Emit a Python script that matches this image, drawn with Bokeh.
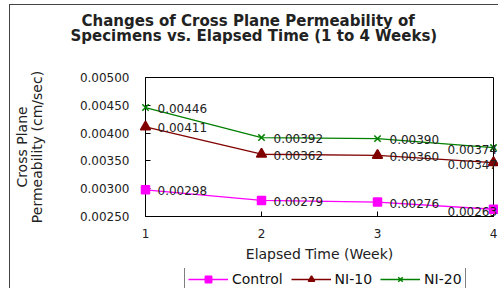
from bokeh.plotting import figure
from bokeh.layouts import column
from bokeh.models import (Range1d, FixedTicker, PrintfTickFormatter, ColumnDataSource,
                          Legend, LegendItem, Title)
from bokeh.core.properties import value
from bokeh.embed import file_html
from bokeh.resources import INLINE

weeks = [1, 2, 3, 4]
control = [0.00298, 0.00279, 0.00276, 0.00263]
ni10 = [0.00411, 0.00362, 0.00360, 0.00347]
ni20 = [0.00446, 0.00392, 0.00390, 0.00374]
series_names = ["Control", "NI-10", "NI-20"]
y_ticks = [0.0025, 0.0030, 0.0035, 0.0040, 0.0045, 0.0050]
x_ticks = [1, 2, 3, 4]
title_lines = ["Changes of Cross Plane Permeability of",
               "Specimens vs. Elapsed Time (1 to 4 Weeks)"]

FONT = "DejaVu Sans"
colors = ["#FF00FF", "#800000", "#008000"]
markers = ["square", "triangle", "x"]
sizes = [8, 10, 9]
W = 488
BL, BR = 134, 5


def blank(height, top, bottom):
    f = figure(width=W, height=height, output_backend="svg", toolbar_location=None,
               x_range=Range1d(1, 4), y_range=Range1d(1, 2),
               min_border_left=BL, min_border_right=BR,
               min_border_top=top, min_border_bottom=bottom)
    f.axis.visible = False
    f.grid.visible = False
    f.outline_line_color = None
    f.title = None
    f.background_fill_color = "white"
    f.border_fill_color = "white"
    return f


# title strip
tf = blank(55, 39, 0)
t2 = Title(text=title_lines[1], align="left", text_font=FONT, text_font_size="15px",
           text_font_style="bold", text_color="#222", offset=-75, standoff=0)
t1 = Title(text=title_lines[0], align="left", text_font=FONT, text_font_size="15px",
           text_font_style="bold", text_color="#222", offset=-64, standoff=-10)
tf.add_layout(t2, "above")
tf.add_layout(t1, "above")

# main chart
p = figure(width=W, height=208, output_backend="svg", toolbar_location=None,
           x_range=Range1d(1, 4), y_range=Range1d(0.0025, 0.0050),
           min_border_left=BL, min_border_right=BR, min_border_top=17, min_border_bottom=52)
p.title = None
p.grid.visible = False
p.outline_line_color = "black"
p.background_fill_color = "white"
p.border_fill_color = "white"

for ax in (p.xaxis[0], p.yaxis[0]):
    ax.axis_line_color = "black"
    ax.major_tick_in = 5
    ax.major_tick_out = 0
    ax.minor_tick_in = 0
    ax.minor_tick_out = 0
    ax.major_label_text_font = FONT
    ax.major_label_text_font_size = "12px"
    ax.major_label_text_color = "#222"
    ax.axis_label_text_font = FONT
    ax.axis_label_text_font_size = "14px"
    ax.axis_label_text_font_style = "normal"
    ax.axis_label_text_color = "#222"

p.xaxis.ticker = FixedTicker(ticks=x_ticks)
p.xaxis.major_label_standoff = 12
p.xaxis.axis_label = "Elapsed Time (Week)"
p.xaxis.axis_label_standoff = 5

p.yaxis.ticker = FixedTicker(ticks=y_ticks)
p.yaxis.formatter = PrintfTickFormatter(format="%.5f")
p.yaxis.major_label_standoff = 16
p.yaxis.axis_label = "Cross Plane\nPermeability (cm/sec)"
p.yaxis.axis_label_text_line_height = 0.95
p.yaxis.axis_label_standoff = 32

# legend strip (its frame range hides the data, only the legend swatches show)
pl = blank(20, 0, 0)
items = []
for name, vals, c, m, s in zip(series_names, [control, ni10, ni20], colors, markers, sizes):
    src = ColumnDataSource(dict(x=weeks, y=vals, t=["%.5f" % v for v in vals],
                                xo=[12, 12, 12, -46], yo=[1, 1, 1, 2]))
    p.line("x", "y", source=src, line_color=c, line_width=1.3)
    p.scatter("x", "y", source=src, marker=m, size=s, fill_color=c, line_color=c,
              line_width=1.5, level="overlay")
    p.text("x", "y", text="t", source=src, x_offset="xo", y_offset="yo",
           text_font=value(FONT), text_font_size="12px", text_color="#222",
           text_baseline="middle", text_align="left", level="overlay")
    ln = pl.line("x", "y", source=src, line_color=c, line_width=1.3)
    sc = pl.scatter("x", "y", source=src, marker=m, size=s, fill_color=c, line_color=c,
                    line_width=1.5)
    items.append(LegendItem(label=name, renderers=[ln, sc]))

legend = Legend(items=items, orientation="horizontal", location=(39, -3),
                label_text_font=FONT, label_text_font_size="14px", label_text_color="#111",
                glyph_width=40, glyph_height=16, label_standoff=4, spacing=8,
                padding=3, margin=0, border_line_color="black", border_line_width=1,
                background_fill_alpha=1.0)
pl.add_layout(legend, "center")

layout = column(tf, p, pl, spacing=0, margin=(4, 0, 0, 9),
                styles={"border-left": "1px solid #444", "border-top": "1px solid #444"})

open("out.html", "w").write(file_html(layout, INLINE))
